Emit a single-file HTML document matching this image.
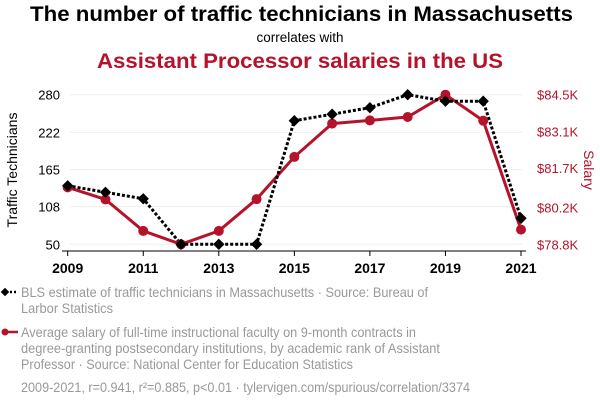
<!DOCTYPE html>
<html><head><meta charset="utf-8"><style>
body{margin:0;background:#fff;width:600px;height:408px;overflow:hidden;font-family:"Liberation Sans",sans-serif}
svg text{font-family:"Liberation Sans",sans-serif}
</style></head><body>
<svg id="chart" width="600" height="408">
<text x="30" y="21" textLength="543" lengthAdjust="spacingAndGlyphs" font-size="21" font-weight="bold" fill="#000">The number of traffic technicians in Massachusetts</text>
<text x="300" y="42" text-anchor="middle" font-size="13.5" fill="#000">correlates with</text>
<text x="97" y="68" textLength="406" lengthAdjust="spacingAndGlyphs" font-size="21" font-weight="bold" fill="#b5132b">Assistant Processor salaries in the US</text>
<g id="grid"></g><g id="axes"></g><g id="series"></g>
<text transform="translate(17,170) rotate(-90)" text-anchor="middle" font-size="14" fill="#000">Traffic Technicians</text>
<text transform="translate(584,170) rotate(90)" text-anchor="middle" font-size="14" fill="#b5132b">Salary</text>
<g>
<line x1="2" y1="292" x2="18" y2="292" stroke="#000" stroke-width="2.5" stroke-dasharray="2,2"/>
<rect x="2" y="289" width="6" height="6" transform="rotate(45 5 292)" fill="#000"/>
<text font-size="14" fill="#999"><tspan x="21" y="297" textLength="407" lengthAdjust="spacingAndGlyphs">BLS estimate of traffic technicians in Massachusetts · Source: Bureau of</tspan><tspan x="21" y="313" textLength="92" lengthAdjust="spacingAndGlyphs">Larbor Statistics</tspan></text>
</g>
<g>
<line x1="2" y1="332" x2="18" y2="332" stroke="#b5132b" stroke-width="2.5"/>
<circle cx="5" cy="332" r="3.5" fill="#b5132b"/>
<text font-size="14" fill="#999"><tspan x="21" y="337" textLength="395" lengthAdjust="spacingAndGlyphs">Average salary of full-time instructional faculty on 9-month contracts in</tspan><tspan x="21" y="353" textLength="419" lengthAdjust="spacingAndGlyphs">degree-granting postsecondary institutions, by academic rank of Assistant</tspan><tspan x="21" y="369" textLength="332" lengthAdjust="spacingAndGlyphs">Professor · Source: National Center for Education Statistics</tspan></text>
</g>
<text x="21" y="392" textLength="449" lengthAdjust="spacingAndGlyphs" font-size="14" fill="#999">2009-2021, r=0.941, r²=0.885, p&lt;0.01 · tylervigen.com/spurious/correlation/3374</text>
</svg>
<script>
const years=[2009,2010,2011,2012,2013,2014,2015,2016,2017,2018,2019,2020,2021];
const technicians=[140,130,120,50,50,50,240,250,260,280,270,270,90];
const salary=[80.97,80.51,79.31,78.8,79.31,80.52,82.13,83.4,83.52,83.65,84.5,83.51,79.36];
const leftTicks=[50,108,165,222,280];
const rightTicks=[78.8,80.2,81.7,83.1,84.5];
const rightTickLabels=["$78.8K","$80.2K","$81.7K","$83.1K","$84.5K"];
const xTicks=[2009,2011,2013,2015,2017,2019,2021];
const NS="http://www.w3.org/2000/svg";
const x=v=>67.7+(v-2009)*(521-67.7)/12;
const yL=v=>244.3-(v-50)/(280-50)*149.6;
const yR=v=>244.3-(v-78.8)/(84.5-78.8)*149.6;
function mk(tag,attrs,parent){const e=document.createElementNS(NS,tag);for(const k in attrs)e.setAttribute(k,attrs[k]);parent.appendChild(e);return e;}
const grid=document.getElementById('grid'),axes=document.getElementById('axes'),ser=document.getElementById('series');
leftTicks.forEach(t=>{
 const g=mk('line',{x1:70,x2:522,y1:yL(t),y2:yL(t),stroke:'#eee','stroke-width':1},grid);
 
 
 const l=mk('text',{x:60,y:yL(t)+5,'text-anchor':'end','font-size':13,fill:'#000'},axes);l.textContent=t;
 
 
});
rightTicks.forEach((t,i)=>{
 const l=mk('text',{x:537,y:yR(t)+5,'font-size':13,fill:'#b5132b'},axes);l.textContent=rightTickLabels[i];
 
 
});
const ax=mk('line',{x1:62,x2:526,y1:251,y2:251,stroke:'#000','stroke-width':1},axes);


xTicks.forEach(t=>{
 mk('line',{x1:x(t),x2:x(t),y1:251,y2:256,stroke:'#000'},axes);
 const l=mk('text',{x:x(t),y:273,'text-anchor':'middle','font-size':14,'font-weight':'bold',fill:'#000'},axes);l.textContent=t;
 
 
});
const rp=mk('polyline',{points:years.map((y,i)=>x(y)+','+yR(salary[i])).join(' '),fill:'none',stroke:'#b5132b','stroke-width':3},ser);


const bp=mk('polyline',{points:years.map((y,i)=>x(y)+','+yL(technicians[i])).join(' '),fill:'none',stroke:'#000','stroke-width':3,'stroke-dasharray':'3,2'},ser);


years.forEach((y,i)=>{
 const c=mk('circle',{cx:x(y),cy:yR(salary[i]),r:5,fill:'#b5132b'},ser);
 
 
});
years.forEach((y,i)=>{
 const cx=x(y),cy=yL(technicians[i]);
 const d=mk('rect',{x:cx-4,y:cy-4,width:8,height:8,transform:`rotate(45 ${cx} ${cy})`,fill:'#000'},ser);
 
 
});
</script>
</body></html>
